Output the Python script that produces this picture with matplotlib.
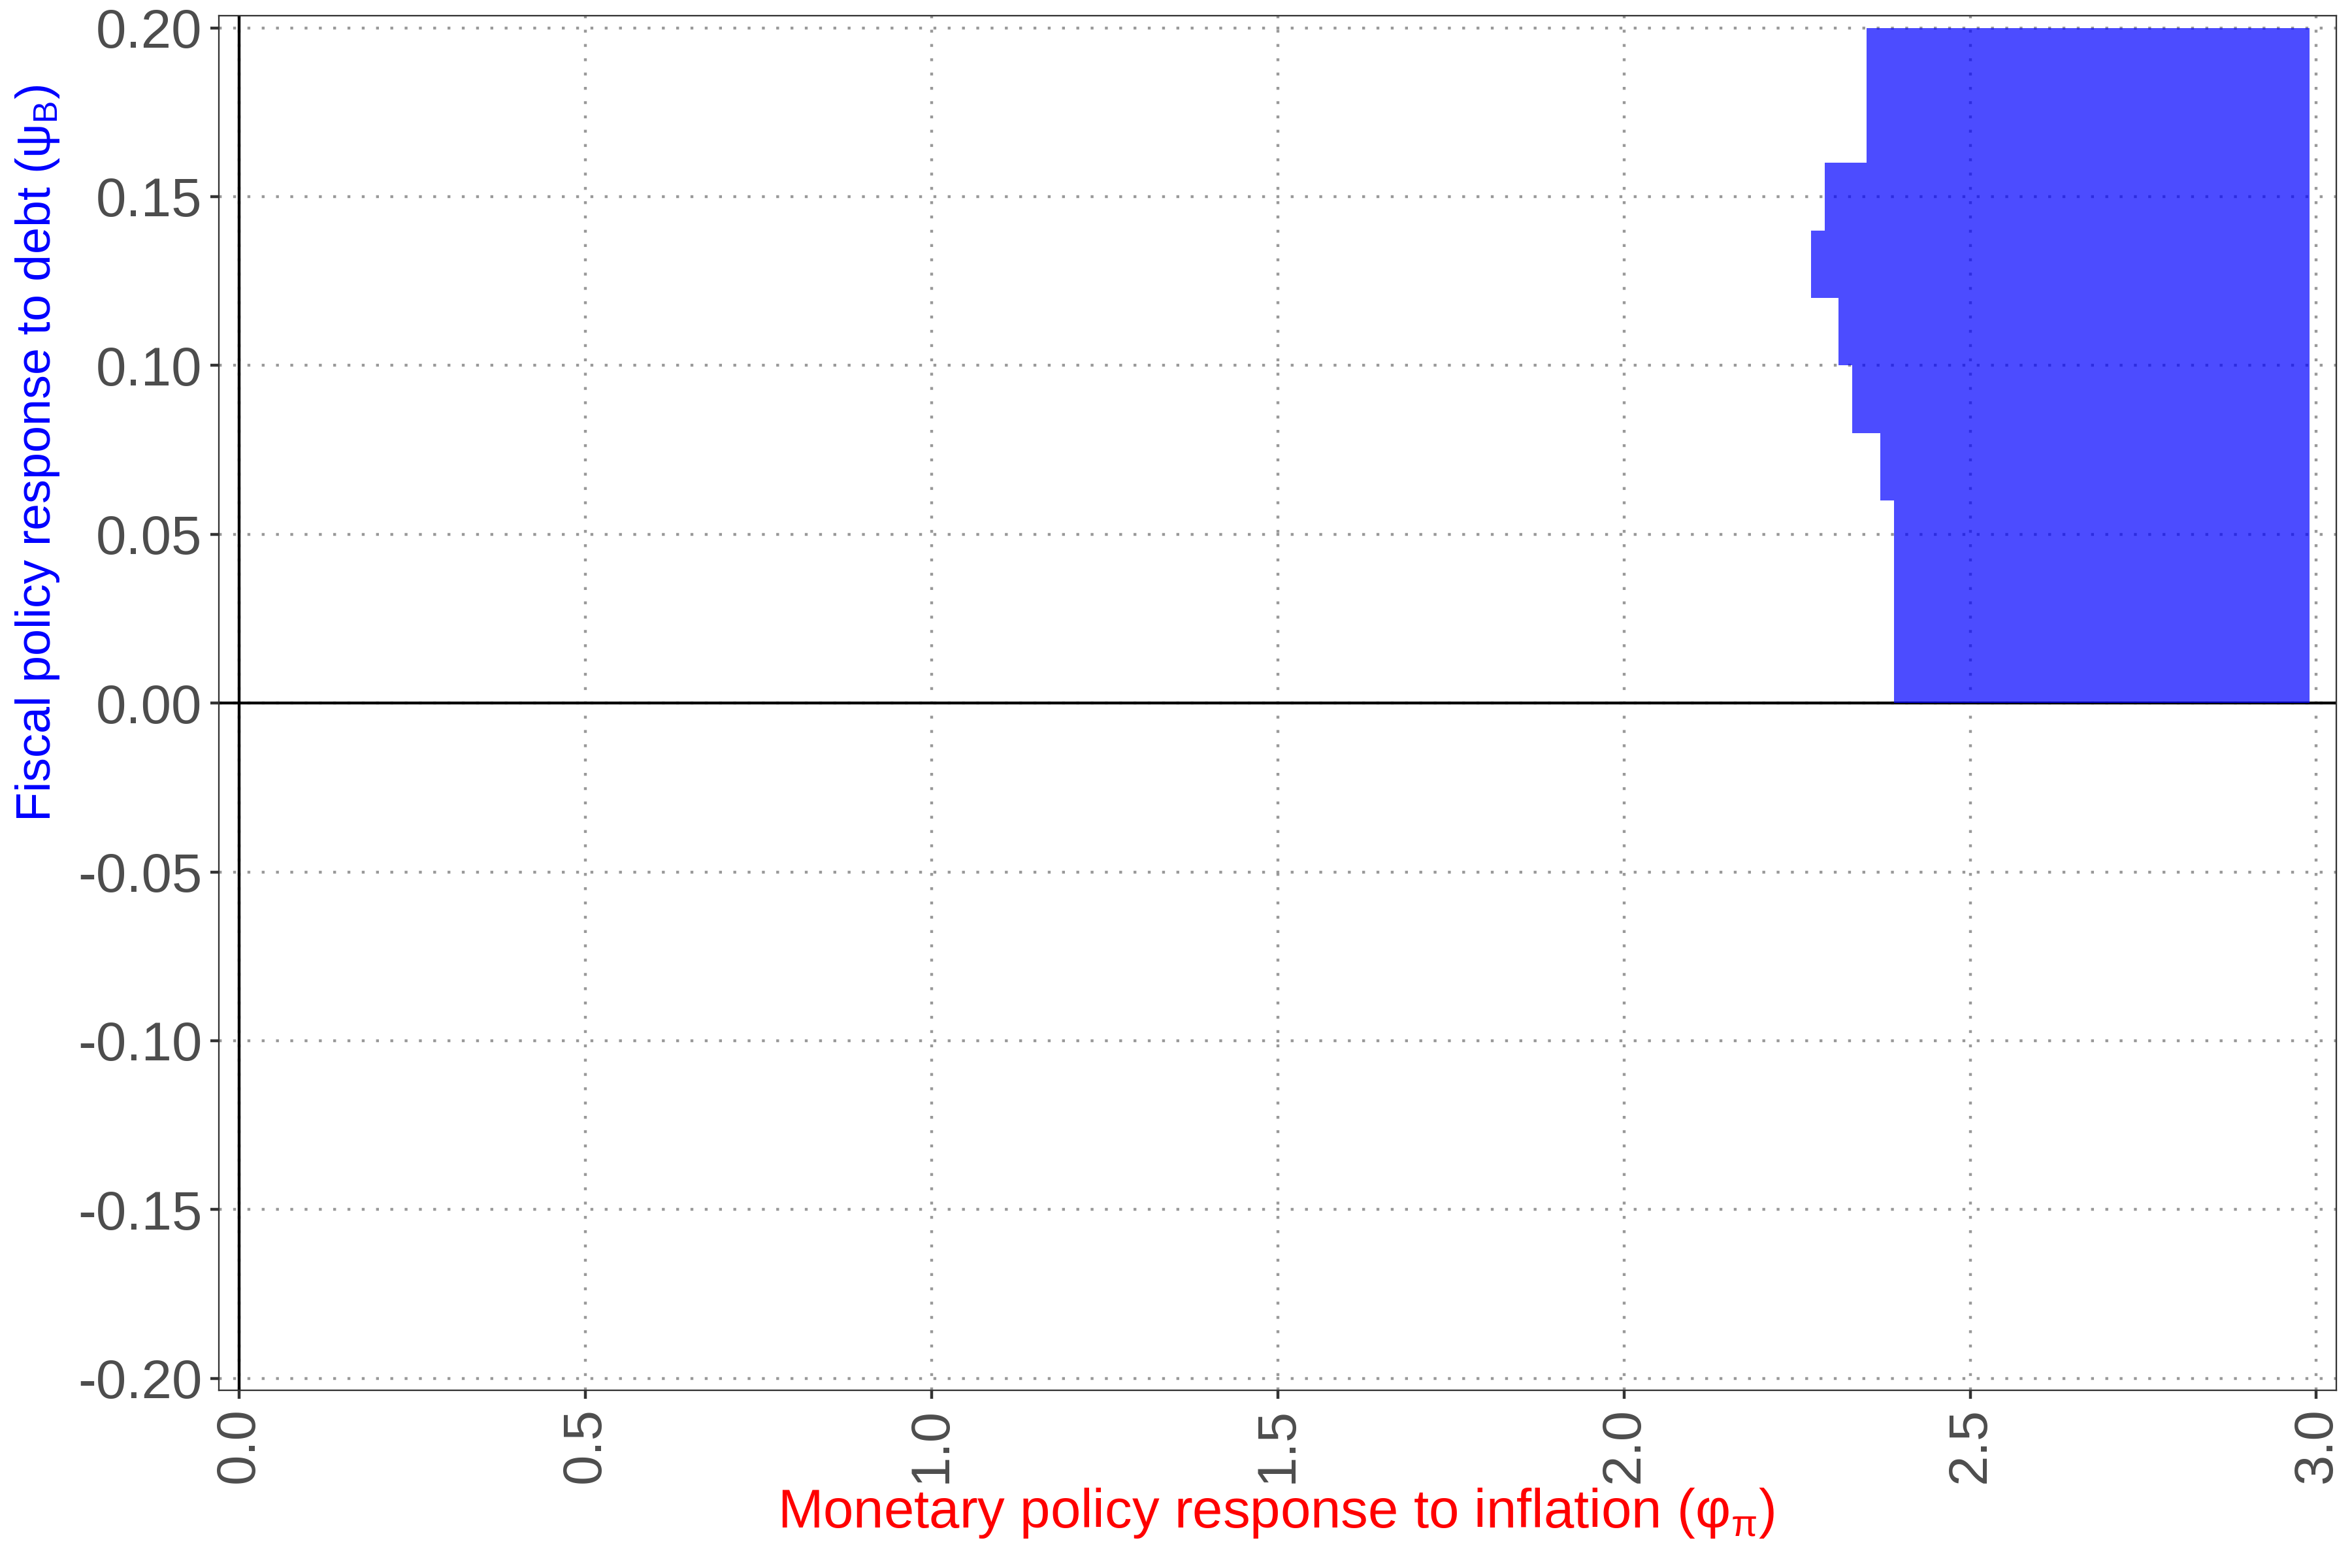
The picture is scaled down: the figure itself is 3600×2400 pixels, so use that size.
import matplotlib
matplotlib.use("Agg")
import matplotlib.pyplot as plt
import numpy as np

# ---- data ----
psi_edges = [0.00, 0.06, 0.08, 0.10, 0.12, 0.14, 0.16, 0.20]   # psi_B band edges
phi_lower = [2.39, 2.37, 2.33, 2.31, 2.27, 2.29, 2.35]          # left edge of region per band
phi_upper = [2.99, 2.99, 2.99, 2.99, 2.99, 2.99, 2.99]          # right edge of region per band
x_ticks = [0.0, 0.5, 1.0, 1.5, 2.0, 2.5, 3.0]
x_ticklabels = ["0.0", "0.5", "1.0", "1.5", "2.0", "2.5", "3.0"]
y_ticks = [0.20, 0.15, 0.10, 0.05, 0.00, -0.05, -0.10, -0.15, -0.20]
y_ticklabels = ["0.20", "0.15", "0.10", "0.05", "0.00", "-0.05", "-0.10", "-0.15", "-0.20"]
x_label = r"Monetary policy response to inflation ($\mathrm{φ}_{\mathrm{π}}$)"
y_label = r"Fiscal policy response to debt ($\mathrm{ψ}_{\mathrm{B}}$)"

plt.rcParams['font.family'] = ['Liberation Sans', 'DejaVu Sans']
plt.rcParams['mathtext.fontset'] = 'custom'
plt.rcParams['mathtext.rm'] = 'Liberation Sans'
plt.rcParams['mathtext.it'] = 'Liberation Sans:italic'
plt.rcParams['mathtext.bf'] = 'Liberation Sans:bold'

fig = plt.figure(figsize=(12, 8), dpi=300)
ax = fig.add_axes([0.09306, 0.11321, 0.90028, 0.87679])

ax.set_xlim(-0.0288, 3.0288)
ax.set_ylim(-0.2036, 0.2036)

# grid
ax.set_axisbelow(True)
ax.grid(True, which='major', color='#999999', linestyle=(0, (1, 4.0)), linewidth=1.05, zorder=0)

# zero lines
ax.axhline(0, color='black', linewidth=1.05, zorder=1)
ax.axvline(0, color='black', linewidth=1.05, zorder=1)

# region
x1 = list(phi_lower) + [phi_lower[-1]]
x2 = list(phi_upper) + [phi_upper[-1]]
ax.fill_betweenx(psi_edges, x1, x2, step='post', color='blue', alpha=0.7,
                 linewidth=0, zorder=2)

ax.set_xticks(x_ticks)
ax.set_xticklabels(x_ticklabels, rotation=90)
ax.set_yticks(y_ticks)
ax.set_yticklabels(y_ticklabels)
ax.tick_params(axis='both', which='major', labelsize=20, labelcolor='#4D4D4D',
               color='#333333', length=3.1, width=1.07, pad=3.1)

for s in ax.spines.values():
    s.set_color('#333333')
    s.set_linewidth(0.55)

fig.text(0.5426, 0.02583, x_label, color='red', fontsize=20,
         ha='center', va='baseline')
fig.text(0.0160, 0.7108, y_label, color='blue', fontsize=17.7,
         ha='center', va='center', rotation=90)

fig.savefig("out.png", dpi=300)
